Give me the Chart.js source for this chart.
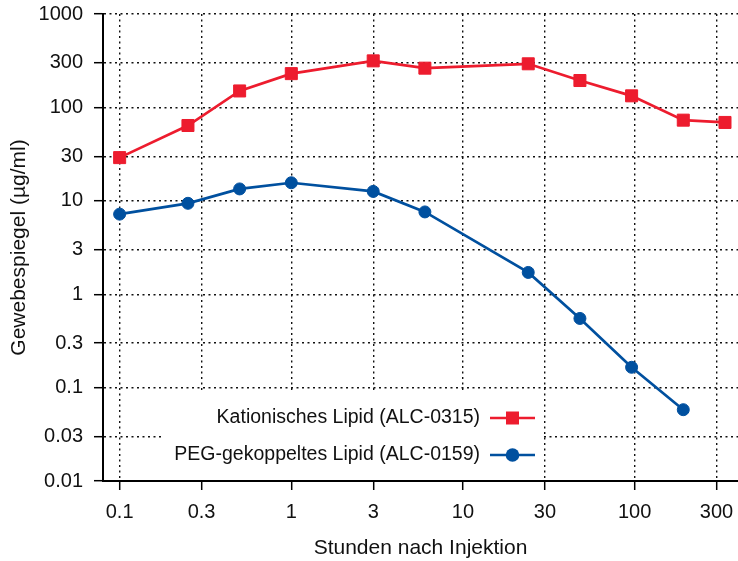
<!DOCTYPE html>
<html>
<head>
<meta charset="utf-8">
<script src="https://cdn.jsdelivr.net/npm/chart.js@4/dist/chart.umd.min.js"></script>
<style>
  html, body { margin: 0; padding: 0; background: #fff; }
  #wrap { width: 738px; height: 561px; }
</style>
</head>
<body>
<div id="wrap"><canvas id="lipidChart" width="738" height="561"></canvas></div>
<script>
// hours after injection
const hoursKat = [0.1, 0.25, 0.5, 1, 3, 6, 24, 48, 96, 192, 336];
const hoursPeg = [0.1, 0.25, 0.5, 1, 3, 6, 24, 48, 96, 192];

// tissue level, µg/ml
const katValues = [29, 64, 150, 230, 315, 263, 293, 194, 133, 73, 69];
const pegValues = [7.2, 9.4, 13.4, 15.6, 12.6, 7.6, 1.71, 0.55, 0.165, 0.058];

const seriesNames = ['Kationisches Lipid (ALC-0315)', 'PEG-gekoppeltes Lipid (ALC-0159)'];

const xTicks = [0.1, 0.3, 1, 3, 10, 30, 100, 300];
const yTicks = [0.01, 0.03, 0.1, 0.3, 1, 3, 10, 30, 100, 300, 1000];

const RED = '#ed1c2e';
const BLUE = '#00509f';
const FONT = "'Liberation Sans', Arial, sans-serif";

const toPoints = (xs, ys) => xs.map((x, i) => ({ x: x, y: ys[i] }));

// gnuplot style key: text right aligned, then line sample with marker
const keyBox = {
    id: 'keyBox',
    beforeDatasetsDraw(chart) {
        const { ctx, chartArea } = chart;
        const left = chartArea.left + 60;
        const right = chartArea.left + 440;
        const top = chartArea.bottom - 89;
        ctx.save();
        ctx.fillStyle = '#fff';
        ctx.fillRect(left, top, right - left, chartArea.bottom - top - 1.5);

        const textRight = chartArea.left + 377;
        const lineStart = chartArea.left + 387;
        const lineEnd = chartArea.left + 432;
        const rows = [chartArea.bottom - 63, chartArea.bottom - 26];
        ctx.font = '19.5px ' + FONT;
        ctx.textAlign = 'right';
        ctx.textBaseline = 'middle';
        chart.data.datasets.forEach((ds, i) => {
            const y = rows[i];
            ctx.fillStyle = '#111';
            ctx.fillText(ds.label, textRight, y);
            ctx.strokeStyle = ds.borderColor;
            ctx.lineWidth = 2.5;
            ctx.beginPath();
            ctx.moveTo(lineStart, y);
            ctx.lineTo(lineEnd, y);
            ctx.stroke();
            ctx.fillStyle = ds.borderColor;
            const mx = (lineStart + lineEnd) / 2;
            ctx.beginPath();
            if (ds.pointStyle === 'rect') {
                ctx.rect(mx - 6.5, y - 6.5, 13, 13);
            } else {
                ctx.arc(mx, y, 6.8, 0, Math.PI * 2);
            }
            ctx.fill();
        });
        ctx.restore();
    }
};

const gridOpts = {
    color: '#111',
    lineWidth: 1.4,
    borderDash: [2, 3.5],
    drawTicks: true,
    tickLength: 9,
    tickColor: '#000',
    tickWidth: 1.5,
    tickBorderDash: []
};

new Chart(document.getElementById('lipidChart'), {
    type: 'line',
    data: {
        datasets: [
            {
                label: seriesNames[0],
                data: toPoints(hoursKat, katValues),
                borderColor: RED,
                backgroundColor: RED,
                borderWidth: 2.7,
                pointStyle: 'rect',
                pointRadius: 8.5,
                pointBorderWidth: 1,
                pointBorderColor: RED,
                pointBackgroundColor: RED,
                tension: 0,
                clip: false
            },
            {
                label: seriesNames[1],
                data: toPoints(hoursPeg, pegValues),
                borderColor: BLUE,
                backgroundColor: BLUE,
                borderWidth: 2.7,
                pointStyle: 'circle',
                pointRadius: 6,
                pointBorderWidth: 1,
                pointBorderColor: BLUE,
                pointBackgroundColor: BLUE,
                tension: 0,
                clip: false
            }
        ]
    },
    options: {
        responsive: false,
        animation: false,
        layout: { autoPadding: false, padding: { top: 14, right: 0, left: 0, bottom: 0 } },
        plugins: {
            legend: { display: false },
            tooltip: { enabled: false }
        },
        scales: {
            x: {
                type: 'logarithmic',
                min: 0.08,
                max: 400,
                afterBuildTicks: (scale) => { scale.ticks = xTicks.map(v => ({ value: v })); },
                afterFit: (scale) => {
                    scale.height = 80;
                    scale.paddingLeft = 0;
                    scale.paddingRight = 0;
                },
                grid: gridOpts,
                border: { display: true, color: '#000', width: 2, dash: [2, 3.5] },
                ticks: {
                    autoSkip: false,
                    maxRotation: 0,
                    padding: 10,
                    color: '#111',
                    font: { family: FONT, size: 20 },
                    callback: (v) => String(v)
                },
                title: {
                    display: true,
                    text: 'Stunden nach Injektion',
                    color: '#111',
                    font: { family: FONT, size: 21 },
                    padding: { top: 0, bottom: 0 }
                }
            },
            y: {
                type: 'logarithmic',
                min: 0.01,
                max: 1000,
                afterBuildTicks: (scale) => { scale.ticks = yTicks.map(v => ({ value: v })); },
                afterFit: (scale) => {
                    scale.width = 103;
                    scale.paddingTop = 0;
                    scale.paddingBottom = 0;
                },
                grid: gridOpts,
                border: { display: true, color: '#000', width: 2, dash: [2, 3.5] },
                ticks: {
                    autoSkip: false,
                    padding: 11,
                    color: '#111',
                    font: { family: FONT, size: 20 },
                    callback: (v) => String(v)
                },
                title: {
                    display: true,
                    text: 'Gewebespiegel (µg/ml)',
                    color: '#111',
                    font: { family: FONT, size: 21 },
                    padding: { top: 7, bottom: 0 }
                }
            }
        }
    },
    plugins: [keyBox]
});
</script>
</body>
</html>
